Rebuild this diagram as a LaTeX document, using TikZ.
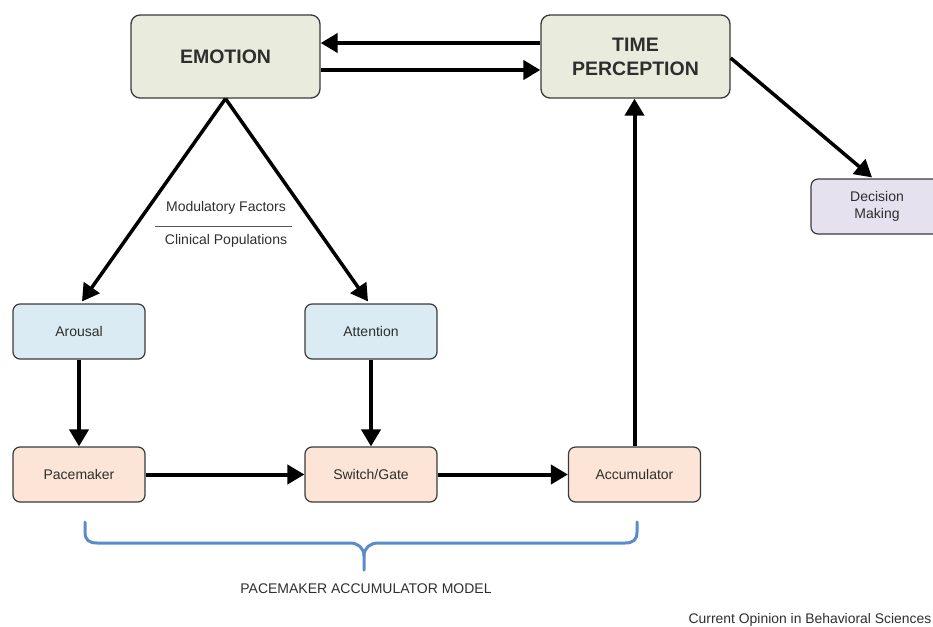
\documentclass[tikz,border=0pt]{standalone}
\usepackage{fontspec}
\setmainfont{Liberation Sans}
\usetikzlibrary{arrows.meta}
\definecolor{bigfill}{HTML}{E9ECDD}
\definecolor{bluefill}{HTML}{DAEBF3}
\definecolor{peachfill}{HTML}{FCE5D6}
\definecolor{lavfill}{HTML}{E6E1EF}
\definecolor{boxline}{HTML}{3A3A3A}
\definecolor{bracecol}{HTML}{5B8CC8}
\definecolor{txt}{HTML}{2E2E2E}
\tikzset{
  bigbox/.style={draw=boxline, line width=1.3pt, fill=bigfill, rounded corners=9pt,
    minimum width=189pt, minimum height=83pt, inner sep=0pt, align=center,
    font=\fontsize{19.5}{24}\selectfont\bfseries, text=txt},
  smallbox/.style={draw=boxline, line width=1.2pt, rounded corners=7pt,
    minimum width=132pt, minimum height=55pt, inner sep=0pt, align=center,
    font=\fontsize{14}{17}\selectfont, text=txt},
  conn/.style={line width=4pt, -{Triangle[length=17pt,width=19pt]}},
  diag/.style={line width=3.5pt, -{Triangle[length=17pt,width=19pt]}},
  lbl/.style={font=\fontsize{14}{16}\selectfont, text=txt, inner sep=0pt},
  bracestyle/.style={draw=bracecol, line width=3pt, line cap=round, line join=round}
}
\begin{document}
\begin{tikzpicture}[x=1pt,y=-1pt]
\useasboundingbox (0,0) rectangle (933,626);
% nodes
\node[bigbox] (emo) at (225.5,56.5) {EMOTION};
\node[bigbox] (time) at (635.5,56.5) {TIME\\PERCEPTION};
\node[smallbox, fill=lavfill] (dec) at (877,206.5) {Decision\\Making};
\node[smallbox, fill=bluefill] (arou) at (79,331.5) {Arousal};
\node[smallbox, fill=bluefill] (att) at (371,331.5) {Attention};
\node[smallbox, fill=peachfill] (pace) at (79,474.5) {Pacemaker};
\node[smallbox, fill=peachfill] (sw) at (371,474.5) {Switch/Gate};
\node[smallbox, fill=peachfill] (acc) at (634.5,474.5) {Accumulator};
% labels
\node[lbl] (mod) at (226,208) {Modulatory Factors};
\node[lbl] (clin) at (226,241) {Clinical Populations};
\coordinate (divl) at (155,226);
\coordinate (divr) at (292,226);
\draw[draw=txt!80, line width=1pt] (divl) -- (divr);
\node[lbl] (pam) at (366,589) {PACEMAKER ACCUMULATOR MODEL};
\node[lbl, anchor=east, font=\fontsize{13.9}{16}\selectfont] (cob) at (931.5,620) {Current Opinion in Behavioral Sciences};
% connectors
\draw[conn] ([yshift=13.5pt]time.west) -- ([yshift=13.5pt]emo.east);
\draw[conn] ([yshift=-13.5pt]emo.east) -- ([yshift=-13.5pt]time.west);
\draw[diag] (emo.south) -- ([xshift=3pt,yshift=2pt]arou.north);
\draw[diag] (emo.south) -- ([xshift=-3pt,yshift=2pt]att.north);
\draw[diag] ([yshift=-1.5pt]time.east) -- ([xshift=-5pt,yshift=1pt]dec.north);
\draw[conn] (arou.south) -- (pace.north);
\draw[conn] (att.south) -- (sw.north);
\draw[conn] (pace.east) -- (sw.west);
\draw[conn] (sw.east) -- (acc.west);
\draw[conn] (acc.north) -- (acc.north |- time.south);
% brace
\draw[bracestyle] (85,522) -- (85,532) .. controls (85,540) and (89,543) .. (97,543)
  -- (350,543) .. controls (358,543) and (364,548) .. (364,556) -- (364,570);
\draw[bracestyle] (364,556) .. controls (364,548) and (370,543) .. (378,543)
  -- (625,543) .. controls (633,543) and (637,540) .. (637,532) -- (637,522);
\end{tikzpicture}
\end{document}
